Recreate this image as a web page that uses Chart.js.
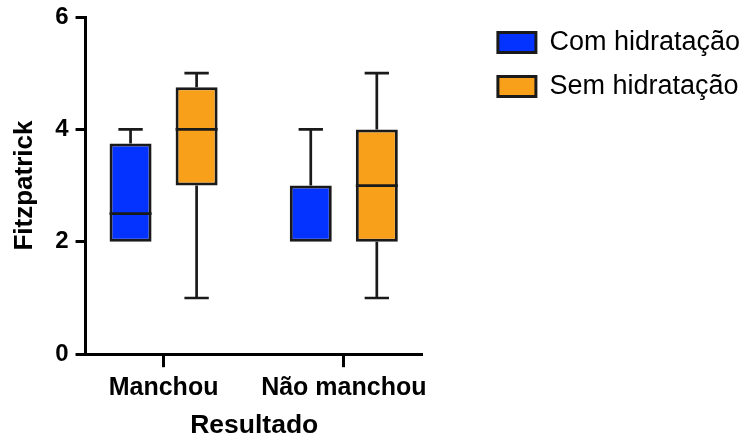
<!DOCTYPE html>
<html>
<head>
<meta charset="utf-8">
<script src="https://cdn.jsdelivr.net/npm/chart.js@4.4.1/dist/chart.umd.min.js"></script>
<style>
  html, body { margin: 0; padding: 0; background: #fff; }
  #wrap { width: 750px; height: 442px; }
</style>
</head>
<body>
<div id="wrap"><canvas id="boxChart"></canvas></div>
<script>
// data
const categories = ['Manchou', 'Não manchou'];
const seriesNames = ['Com hidratação', 'Sem hidratação'];

const comMin = [2, 2];
const comQ1 = [2, 2];
const comMedian = [2.5, 2];
const comQ3 = [3.75, 3];
const comMax = [4, 4];

const semMin = [1, 1];
const semQ1 = [3, 2];
const semMedian = [4, 3];
const semQ3 = [4.75, 4];
const semMax = [5, 5];

const yTicks = [0, 2, 4, 6];

const FONT = '"Liberation Sans", Arial, Helvetica, sans-serif';
Chart.defaults.font.family = FONT;
Chart.defaults.color = '#000';

function boxes(q1, q3) {
  return categories.map((c, i) => ({ x: i + 1, y: [q1[i], q3[i]] }));
}

// whiskers, caps and median lines, placed with the chart's own scales
const whiskerPlugin = {
  id: 'whiskers',
  afterDatasetsDraw(chart) {
    const ctx = chart.ctx;
    const ys = chart.scales.y;
    chart.data.datasets.forEach((ds, di) => {
      const meta = chart.getDatasetMeta(di);
      meta.data.forEach((bar, i) => {
        const half = bar.width / 2;
        const cap = bar.width * 0.29;
        const yMin = ys.getPixelForValue(ds.stats.min[i]);
        const yQ1 = ys.getPixelForValue(ds.stats.q1[i]);
        const yMed = ys.getPixelForValue(ds.stats.median[i]);
        const yQ3 = ys.getPixelForValue(ds.stats.q3[i]);
        const yMax = ys.getPixelForValue(ds.stats.max[i]);
        ctx.save();
        ctx.strokeStyle = '#1a1a1a';
        ctx.lineWidth = 2.7;
        ctx.beginPath();
        if (ds.stats.max[i] > ds.stats.q3[i]) {
          ctx.moveTo(bar.x, yQ3);
          ctx.lineTo(bar.x, yMax);
          ctx.moveTo(bar.x - cap, yMax);
          ctx.lineTo(bar.x + cap, yMax);
        }
        if (ds.stats.min[i] < ds.stats.q1[i]) {
          ctx.moveTo(bar.x, yQ1);
          ctx.lineTo(bar.x, yMin);
          ctx.moveTo(bar.x - cap, yMin);
          ctx.lineTo(bar.x + cap, yMin);
        }
        if (ds.stats.median[i] > ds.stats.q1[i] && ds.stats.median[i] < ds.stats.q3[i]) {
          ctx.moveTo(bar.x - half, yMed);
          ctx.lineTo(bar.x + half, yMed);
        }
        ctx.stroke();
        ctx.restore();
      });
    });
  }
};

new Chart(document.getElementById('boxChart'), {
  type: 'bar',
  data: {
    datasets: [
      {
        label: seriesNames[0],
        data: boxes(comQ1, comQ3),
        stats: { min: comMin, q1: comQ1, median: comMedian, q3: comQ3, max: comMax },
        backgroundColor: '#0433FF',
        borderColor: '#1a1a1a',
        borderWidth: 3,
        borderSkipped: false
      },
      {
        label: seriesNames[1],
        data: boxes(semQ1, semQ3),
        stats: { min: semMin, q1: semQ1, median: semMedian, q3: semQ3, max: semMax },
        backgroundColor: '#F9A01B',
        borderColor: '#1a1a1a',
        borderWidth: 3,
        borderSkipped: false
      }
    ]
  },
  options: {
    responsive: true,
    maintainAspectRatio: false,
    animation: false,
    categoryPercentage: 0.733,
    barPercentage: 0.636,
    layout: { padding: { top: 0, left: 0, right: 0, bottom: 0 } },
    scales: {
      x: {
        type: 'linear',
        offset: false,
        min: 0.567,
        max: 2.439,
        afterBuildTicks: s => { s.ticks = categories.map((c, i) => ({ value: i + 1 })); },
        ticks: {
          callback: v => categories[v - 1],
          font: { size: 25, weight: 'bold' },
          color: '#000',
          padding: 6,
          maxRotation: 0,
          autoSkip: false
        },
        grid: { display: true, offset: false, drawOnChartArea: false, drawTicks: true, tickLength: 13, tickWidth: 3, tickColor: '#000' },
        border: { display: true, color: '#000', width: 3 },
        title: { display: true, text: 'Resultado', color: '#000', font: { size: 26.5, weight: 'bold' }, padding: { top: 1, bottom: 0 } }
      },
      y: {
        min: 0,
        max: 6,
        afterBuildTicks: s => { s.ticks = yTicks.map(v => ({ value: v })); },
        afterFit: s => { s.paddingTop = 17; },
        ticks: { font: { size: 24, weight: 'bold' }, color: '#000', padding: 7 },
        grid: { display: true, drawOnChartArea: false, drawTicks: true, tickLength: 10, tickWidth: 3, tickColor: '#000' },
        border: { display: true, color: '#000', width: 3 },
        title: { display: true, text: 'Fitzpatrick', color: '#000', font: { size: 26, weight: 'bold' }, padding: { top: 9, bottom: 8 } }
      },
      // empty gap between the plot and the legend
      gap: {
        axis: 'y',
        position: 'right',
        min: 0,
        max: 1,
        afterFit: s => { s.width = 58; },
        ticks: { display: false },
        grid: { display: false },
        border: { display: false }
      }
    },
    plugins: {
      tooltip: { enabled: false },
      legend: {
        position: 'right',
        align: 'start',
        maxWidth: 340,
        title: { display: true, text: '', font: { size: 12, lineHeight: 1 }, padding: 0 },
        labels: {
          boxWidth: 38,
          boxHeight: 20,
          padding: 17,
          color: '#000',
          font: { size: 27 }
        }
      }
    }
  },
  plugins: [whiskerPlugin]
});
</script>
</body>
</html>
